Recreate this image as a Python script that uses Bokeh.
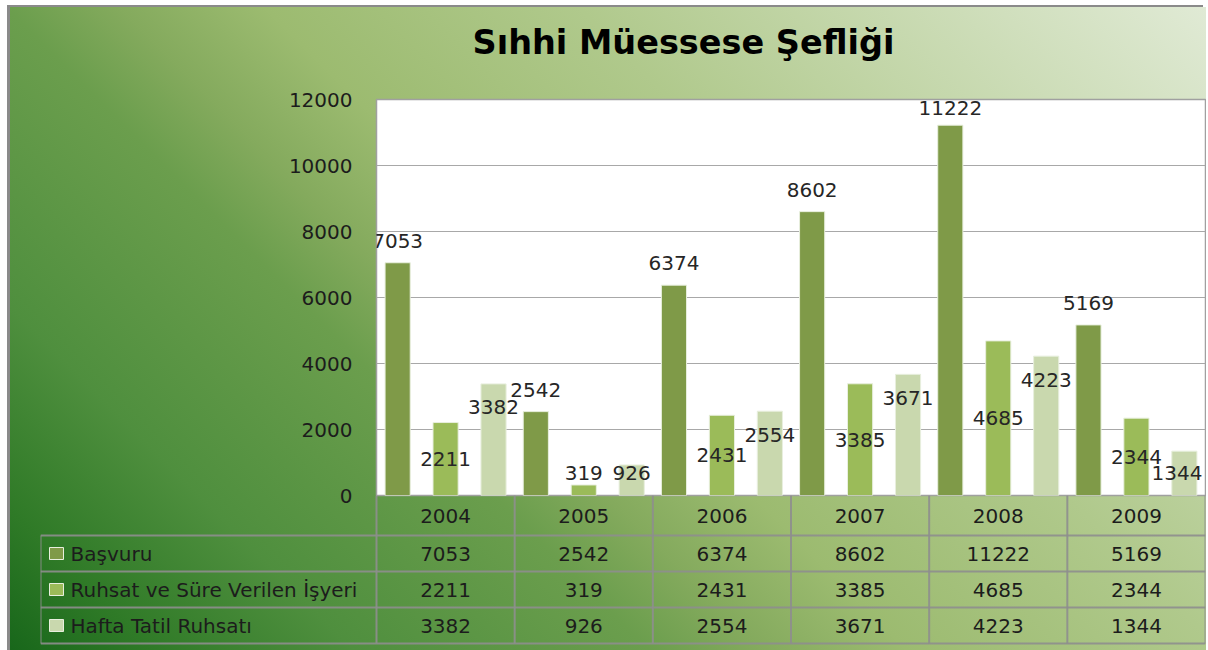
from bokeh.plotting import figure
from bokeh.models import (FactorRange, Range1d, FixedTicker, ColumnDataSource,
                          LabelSet, GlobalInlineStyleSheet)
from bokeh.transform import dodge
from bokeh.embed import file_html
from bokeh.resources import INLINE
from bokeh.core.properties import value

# ---------------- data ----------------
title_text = "Sıhhi Müessese Şefliği"
years = ["2004", "2005", "2006", "2007", "2008", "2009"]
series_names = ["Başvuru", "Ruhsat ve Süre Verilen İşyeri", "Hafta Tatil Ruhsatı"]
basvuru = [7053, 2542, 6374, 8602, 11222, 5169]
ruhsat = [2211, 319, 2431, 3385, 4685, 2344]
hafta = [3382, 926, 2554, 3671, 4223, 1344]
y_ticks = [0, 2000, 4000, 6000, 8000, 10000, 12000]

# ---------------- style / layout ----------------
colors = ["#7f9a48", "#9bbb59", "#c9d8ae"]
offsets = [-0.347, 0.0, 0.347]
BAR_W = 0.182
FONT = "DejaVu Sans"
TEXT_COLOR = "#1c1c1c"
GRADIENT = ("linear-gradient(45deg, #17661a 0%, #2f7a27 8%, #4f8f3e 19%, #6b9e4d 35%, "
            "#84aa5d 41%, #9cbb70 49%, #b0c98c 66%, #e0ead5 100%)")
W = 1196
TITLE_H = 70
TITLE_X = 673     # title centre inside the title strip
FL = 366          # frame left border (top figure)
FR = 1            # frame right border
FT = 22           # frame top border (room for the top tick label)
FB = 12           # bottom border (room for the "0" tick label)
FRAME_H = 396
TOP_H = FT + FRAME_H + FB
FRAME_W = W - FL - FR
COL_W = FRAME_W / len(years)
Y_MAX = y_ticks[-1]
PX = Y_MAX / FRAME_H   # data units per pixel
LABEL_FS = 20

all_series = [basvuru, ruhsat, hafta]

page_css = GlobalInlineStyleSheet(css=(
    "html { background: #ffffff !important; }"
    "body { margin: 7px 2px 0 10px !important; padding: 0 !important; "
    f"background: {GRADIENT} !important; box-shadow: -3px -2px 0 #8a8a8a; }}"))

# ---------------- title strip ----------------
h = figure(width=W, height=TITLE_H, x_range=Range1d(0, W), y_range=Range1d(TITLE_H, 0),
           output_backend="svg", toolbar_location=None, tools="",
           x_axis_location=None, y_axis_location=None,
           min_border_left=0, min_border_right=0, min_border_top=0, min_border_bottom=0,
           stylesheets=[page_css])
h.border_fill_color = None
h.background_fill_color = None
h.outline_line_color = None
h.grid.grid_line_color = None
h.text(x=[TITLE_X], y=[TITLE_H / 2], text=[title_text], text_align="center",
       text_baseline="middle", text_font=value(FONT), text_font_size="33.5px",
       text_font_style="bold", text_color="#000000")

# ---------------- top chart ----------------
p = figure(width=W, height=TOP_H, x_range=FactorRange(*years, range_padding=0),
           y_range=Range1d(0, Y_MAX), output_backend="svg", toolbar_location=None,
           tools="", x_axis_location=None,
           min_border_left=FL, min_border_right=FR, min_border_top=FT, min_border_bottom=FB)
p.border_fill_color = None
p.background_fill_color = "white"
p.outline_line_color = "#a0a0a0"
p.outline_line_width = 1.5
p.xgrid.grid_line_color = None
p.ygrid.grid_line_color = "#a8a8a8"
p.ygrid.grid_line_width = 1.2
p.yaxis.ticker = FixedTicker(ticks=y_ticks)
p.yaxis.axis_line_color = None
p.yaxis.major_tick_line_color = None
p.yaxis.minor_tick_line_color = None
p.yaxis.major_tick_out = 0
p.yaxis.major_label_standoff = 24
p.yaxis.major_label_text_font = FONT
p.yaxis.major_label_text_font_size = "20px"
p.yaxis.major_label_text_color = TEXT_COLOR

for k, (vals, col, off) in enumerate(zip(all_series, colors, offsets)):
    # label placement: series 0 above bar, series 1 centred, series 2 inside end
    ly = []
    xo = []
    for i, v in enumerate(vals):
        if k == 0:
            y = min(v + 22 * PX, Y_MAX - 8 * PX)
        elif k == 1:
            y = max(v / 2, 23 * PX)
        else:
            y = max(v - 23.5 * PX, 23 * PX)
        ly.append(y)
        cx = (i + 0.5 + off) * COL_W
        half = len(str(v)) * 0.636 * LABEL_FS / 2
        over = cx + half - (FRAME_W - 3)
        xo.append(-over if over > 0 else 0)
    src = ColumnDataSource(dict(year=years, val=vals, ly=ly, lt=[str(v) for v in vals], xo=xo))
    p.vbar(x=dodge("year", off, range=p.x_range), top="val", width=BAR_W, source=src,
           fill_color=col, line_color="#e8efde", line_width=1)
    p.add_layout(LabelSet(x=dodge("year", off, range=p.x_range), y="ly", text="lt",
                          source=src, x_offset="xo", text_align="center",
                          text_baseline="middle", text_font=value(FONT),
                          text_font_size=f"{LABEL_FS}px", text_color="#262626"))

# ---------------- data table ----------------
TL = 30
LW = (FL - TL) / COL_W        # label column width in column units
ROW_H = 36
HDR_PX = 40
BOT_H = HDR_PX + 3 * ROW_H + 4
HDR = HDR_PX / ROW_H
n_rows = len(series_names)
t = figure(width=W, height=BOT_H, x_range=Range1d(-LW, len(years)),
           y_range=Range1d(BOT_H / ROW_H, 0), output_backend="svg",
           toolbar_location=None, tools="", x_axis_location=None, y_axis_location=None,
           min_border_left=TL, min_border_right=FR, min_border_top=0, min_border_bottom=0,
           styles={"margin-top": f"-{FB}px"})
t.border_fill_color = None
t.background_fill_color = None
t.outline_line_color = None
t.grid.grid_line_color = None

x0, y0, x1, y1 = [], [], [], []
for r in range(n_rows + 1):
    yy = HDR + r
    x0.append(-LW); x1.append(len(years)); y0.append(yy); y1.append(yy)
x0.append(-LW); x1.append(-LW); y0.append(HDR); y1.append(HDR + n_rows)
for c in range(len(years) + 1):
    x0.append(c); x1.append(c); y0.append(0); y1.append(HDR + n_rows)
t.segment(x0=x0, y0=y0, x1=x1, y1=y1, line_color="#8e8e8e", line_width=2, line_alpha=0.9)

hx = [i + 0.5 for i in range(len(years))]
t.text(x=hx, y=[HDR / 2] * len(years), text=years, text_align="center",
       text_baseline="middle", text_font=value(FONT), text_font_size="20px",
       text_color=TEXT_COLOR)
for r, vals in enumerate(all_series):
    t.text(x=hx, y=[HDR + r + 0.5] * len(vals), text=[str(v) for v in vals],
           text_align="center", text_baseline="middle", text_font=value(FONT),
           text_font_size="20px", text_color=TEXT_COLOR)

ry = [HDR + r + 0.5 for r in range(n_rows)]
t.rect(x=[-LW + 16 / COL_W] * n_rows, y=ry, width=14, height=12,
       width_units="screen", height_units="screen", fill_color=colors,
       line_color="#e8efde", line_width=1)
t.text(x=[-LW + 30 / COL_W] * n_rows, y=ry, text=series_names, text_align="left",
       text_baseline="middle", text_font=value(FONT), text_font_size="20px",
       text_color=TEXT_COLOR)

open("out.html", "w").write(file_html([h, p, t], INLINE))
